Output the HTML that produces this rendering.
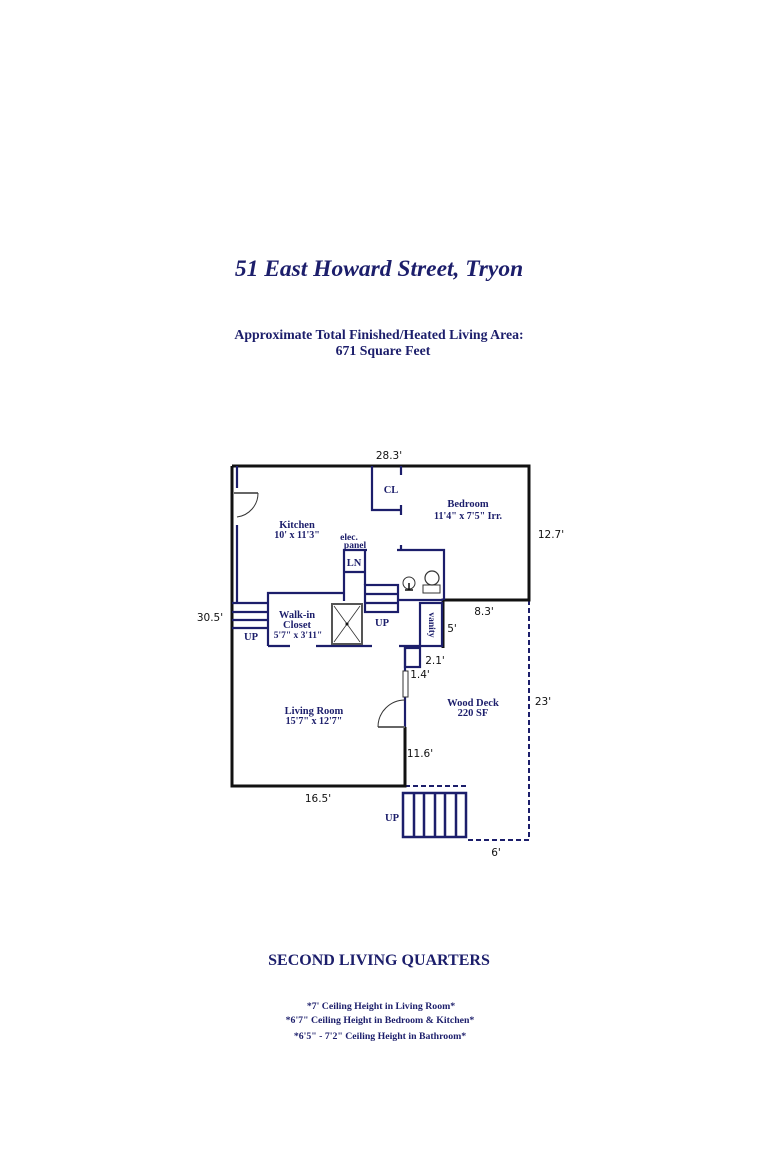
<!DOCTYPE html>
<html><head><meta charset="utf-8"><style>
body{margin:0;background:#fff;}
svg{display:block}
.t{font-family:"Liberation Serif",serif;fill:#1c1e6b;font-weight:bold}
.d{font-family:"DejaVu Sans",sans-serif;fill:#111;font-size:10.5px}
</style></head><body>
<svg width="778" height="1172" viewBox="0 0 778 1172" xmlns="http://www.w3.org/2000/svg">
<text class="t" x="379" y="276" text-anchor="middle" font-size="23.5" font-style="italic">51 East Howard Street, Tryon</text>
<text class="t" x="379" y="339" text-anchor="middle" font-size="13.8">Approximate Total Finished/Heated Living Area:</text>
<text class="t" x="383" y="355" text-anchor="middle" font-size="13.8">671 Square Feet</text>

<g stroke="#1c1e6b" stroke-width="2" fill="none" stroke-dasharray="5,3">
<path d="M529 600 V840 H466 M466 786 H405"/>
</g>
<g stroke="#1c1e6b" stroke-width="2.5" fill="none">
<rect x="403" y="793" width="63" height="44"/>
<path d="M414 793V837M424 793V837M435 793V837M445 793V837M456 793V837"/>
</g>

<g stroke="#111" stroke-width="3" fill="none">
<path d="M232 466 H529 V600 H443 V648"/>
<path d="M232 466 V786 H405 V727"/>
</g>

<g stroke="#1c1e6b" stroke-width="2.2" fill="none">
<path d="M237 466 V488 M237 525 V603"/>
<path d="M372 466 V510 H401 M401 466 V475 M401 505 V515 M401 545 V551"/>
<path d="M397 550 H421 M397 550 H444 V600"/>
<path d="M344 601 V550 H367 M344 572 H365 M365 550 V585"/>
<path d="M268 646 V593 H344"/>
<path d="M232 603 H268 M232 612 H268 M232 620 H268 M232 628 H268"/>
<path d="M268 646 H290 M316 646 H372 M399 646 H420"/>
<rect x="365" y="585" width="33" height="27"/>
<path d="M365 594 H398 M365 603 H398 M398 600 H443"/>
<rect x="420" y="603" width="22" height="43"/>
<rect x="405" y="648" width="15" height="19"/>
<path d="M405 645 V672 M405 697 V727"/>
</g>
<rect x="332" y="604" width="30" height="40" fill="none" stroke="#555" stroke-width="2"/>
<path d="M334 606 L360 642 M360 606 L334 642" stroke="#333" stroke-width="0.8"/>
<circle cx="347" cy="624" r="1.5" fill="#111"/>
<rect x="403" y="671" width="5" height="26" fill="#fff" stroke="#333" stroke-width="1"/>
<path d="M234 493 H258" stroke="#666" stroke-width="2"/>
<path d="M258 493 A24 24 0 0 1 237 517" stroke="#333" stroke-width="1" fill="none"/>
<path d="M378 727 H405" stroke="#666" stroke-width="2"/>
<path d="M378 727 A27 27 0 0 1 405 700" stroke="#333" stroke-width="1" fill="none"/>
<circle cx="409" cy="583" r="6" fill="none" stroke="#333" stroke-width="1"/>
<path d="M405 590 H413 M409 583 V590" stroke="#111" stroke-width="1.5"/>
<circle cx="432" cy="578" r="7" fill="none" stroke="#333" stroke-width="1.2"/>
<rect x="423" y="585" width="17" height="8" fill="none" stroke="#333" stroke-width="1"/>

<text class="t" x="391" y="493" text-anchor="middle" font-size="10.5">CL</text>
<text class="t" x="468" y="507" text-anchor="middle" font-size="10.5">Bedroom</text>
<text class="t" x="468" y="519" text-anchor="middle" font-size="10">11'4" x 7'5" Irr.</text>
<text class="t" x="297" y="528" text-anchor="middle" font-size="10.5">Kitchen</text>
<text class="t" x="297" y="538" text-anchor="middle" font-size="10">10' x 11'3"</text>
<text class="t" x="349" y="540" text-anchor="middle" font-size="9.5">elec.</text>
<text class="t" x="355" y="548" text-anchor="middle" font-size="9.5">panel</text>
<text class="t" x="354" y="566" text-anchor="middle" font-size="10.5">LN</text>
<text class="t" x="297" y="618" text-anchor="middle" font-size="10.5">Walk-in</text>
<text class="t" x="297" y="628" text-anchor="middle" font-size="10.5">Closet</text>
<text class="t" x="298" y="638" text-anchor="middle" font-size="9.5">5'7" x 3'11"</text>
<text class="t" x="251" y="640" text-anchor="middle" font-size="10.5">UP</text>
<text class="t" x="382" y="626" text-anchor="middle" font-size="10.5">UP</text>
<text class="t" x="429" y="625" text-anchor="middle" font-size="9.5" transform="rotate(90 429 625)">vanity</text>
<text class="t" x="314" y="714" text-anchor="middle" font-size="10.5">Living Room</text>
<text class="t" x="314" y="724" text-anchor="middle" font-size="10">15'7" x 12'7"</text>
<text class="t" x="473" y="706" text-anchor="middle" font-size="10.5">Wood Deck</text>
<text class="t" x="473" y="716" text-anchor="middle" font-size="10.5">220 SF</text>
<text class="t" x="392" y="821" text-anchor="middle" font-size="10.5">UP</text>

<text class="d" x="389" y="459" text-anchor="middle">28.3'</text>
<text class="d" x="551" y="538" text-anchor="middle">12.7'</text>
<text class="d" x="210" y="621" text-anchor="middle">30.5'</text>
<text class="d" x="484" y="615" text-anchor="middle">8.3'</text>
<text class="d" x="452" y="632" text-anchor="middle">5'</text>
<text class="d" x="435" y="664" text-anchor="middle">2.1'</text>
<text class="d" x="420" y="678" text-anchor="middle">1.4'</text>
<text class="d" x="543" y="705" text-anchor="middle">23'</text>
<text class="d" x="420" y="757" text-anchor="middle">11.6'</text>
<text class="d" x="318" y="802" text-anchor="middle">16.5'</text>
<text class="d" x="496" y="856" text-anchor="middle">6'</text>

<text class="t" x="379" y="965" text-anchor="middle" font-size="16">SECOND LIVING QUARTERS</text>
<text class="t" x="381" y="1009" text-anchor="middle" font-size="9.8">*7' Ceiling Height in Living Room*</text>
<text class="t" x="380" y="1023" text-anchor="middle" font-size="9.8">*6'7" Ceiling Height in Bedroom &amp; Kitchen*</text>
<text class="t" x="380" y="1039" text-anchor="middle" font-size="9.8">*6'5" - 7'2" Ceiling Height in Bathroom*</text>
</svg>
</body></html>
